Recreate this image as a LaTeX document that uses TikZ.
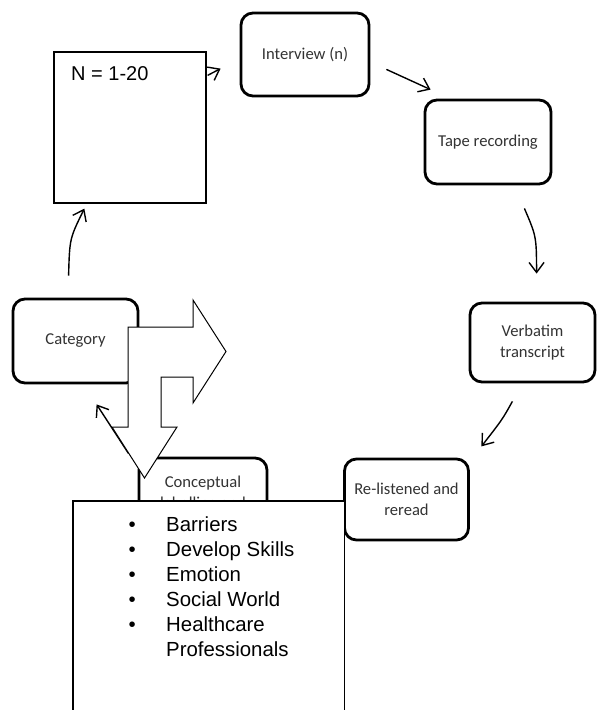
\documentclass[tikz,border=0pt]{standalone}
\usepackage{fontspec}
\setmainfont{Liberation Sans}
\newfontfamily\boxfont{Carlito}
\usetikzlibrary{arrows.meta}
\definecolor{boxtext}{HTML}{333333}
\tikzset{
  rbox/.style={draw=black, line width=2.8pt, rounded corners=12pt, fill=white,
    text=boxtext, font=\boxfont\fontsize{16.6}{20.5}\selectfont, align=center,
    inner sep=0pt},
  plainbox/.style={draw=black, line width=1.3pt, fill=white, inner sep=0pt},
  conn/.style={line width=1.4pt, -{Straight Barb[length=10pt,width=15pt,line width=1.4pt]}},
  bigarrow/.style={draw=black, line width=1pt, fill=white, line join=miter},
}
\begin{document}
\begin{tikzpicture}[x=1pt,y=-1pt]
\useasboundingbox (0,0) rectangle (597,710);
% boxes
\node[plainbox, minimum width=152pt, minimum height=151pt] (nbox) at (130,127.5) {};
\node[anchor=base west, inner sep=0pt, font=\fontsize{20}{24}\selectfont] (nlabel) at (71,80) {N = 1-20};
\node[rbox, minimum width=128pt, minimum height=83pt] (interview) at (305,54.5) {Interview (n)};
\node[rbox, minimum width=126pt, minimum height=84pt] (tape) at (488,142) {Tape recording};
\node[rbox, minimum width=125pt, minimum height=79pt] (verbatim) at (532.5,342.5) {Verbatim\\transcript};
\node[rbox, minimum width=124pt, minimum height=81pt] (relisten) at (406.5,499.5) {Re-listened and\\reread};
\node[rbox, minimum width=128pt, minimum height=71pt] (concept) at (203,493.5) {Conceptual\\labelling and};
\node[rbox, minimum width=125pt, minimum height=84pt] (category) at (75.5,341) {Category};
% connectors
\draw[conn] ([shift={(1,24)}]nbox.north east) -- ([shift={(-19,57)}]interview.north west);
\draw[conn] ([shift={(16,-28)}]interview.south east) -- ([shift={(7,-9)}]tape.north west);
\draw[conn] ([shift={(-28,23)}]tape.south east) .. controls ([shift={(-16,51)}]tape.south east) .. ([shift={(68,-28)}]verbatim.north west);
\draw[conn] ([shift={(-84,18)}]verbatim.south east) .. controls ([shift={(-94,36)}]verbatim.south east) .. ([shift={(-115,63)}]verbatim.south east);
\draw[conn] ([shift={(-9,-3)}]concept.north west) -- ([shift={(85,20)}]category.south west);
\draw[conn] ([shift={(57,-22)}]category.north west) .. controls ([shift={(58,-59)}]category.north west) .. ([shift={(31,5)}]nbox.south west);
% big bent arrow
\draw[bigarrow] (128,327) -- (193,327) -- (193,300) -- (226,351.5) -- (193,403) -- (193,377)
  -- (161,377) -- (161,427) -- (177,427) -- (144.5,478) -- (112,427) -- (128,427) -- cycle;
% list box
\node[plainbox, draw=none, anchor=north west, minimum width=270pt, minimum height=215pt] (listbox) at (73,501) {};
\draw[line width=1.3pt] (listbox.south west) -- (listbox.north west) -- (listbox.north east) -- (listbox.south east);
\node[anchor=base west, inner sep=0pt, font=\fontsize{20.4}{25}\selectfont] (items) at (128.5,531) {%
  \begin{tabular}[t]{@{}p{37.5pt}@{}l@{}}
  \textbullet & Barriers\\
  \textbullet & Develop Skills\\
  \textbullet & Emotion\\
  \textbullet & Social World\\
  \textbullet & Healthcare\\
              & Professionals
  \end{tabular}};
\end{tikzpicture}
\end{document}
